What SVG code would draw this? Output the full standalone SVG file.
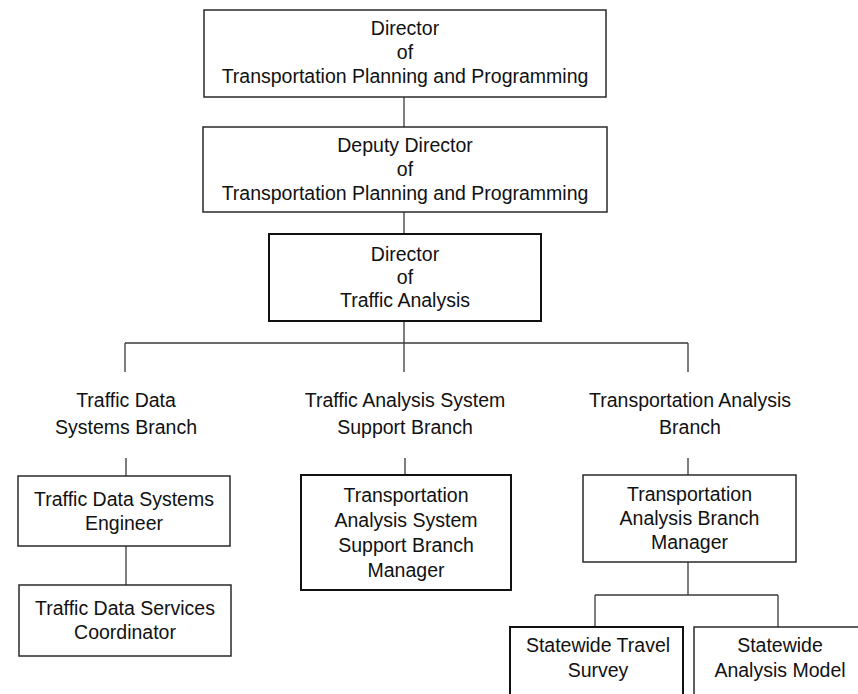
<svg xmlns="http://www.w3.org/2000/svg" width="858" height="694" viewBox="0 0 858 694">
<style>
  .box { fill: #fff; stroke: #2a2a2a; stroke-width: 1.5; }
  .bold { stroke: #111; stroke-width: 2; }
  .conn { fill: none; stroke: #3a3a3a; stroke-width: 1.3; }
  text { font-family: "Liberation Sans", Arial, sans-serif; font-size: 19.5px; fill: #111; text-anchor: middle; }
</style>
<rect width="858" height="694" fill="#fff"/>
<g id="connectors">
  <path class="conn" d="M404 97 V127 M404 212 V234 M404 321 V343 M125 343 H688 M125 343 V372 M404 343 V372 M688 343 V372"/>
  <path class="conn" d="M126 458 V476 M405 458 V475 M688 458 V475"/>
  <path class="conn" d="M126 546 V585"/>
  <path class="conn" d="M688 562 V595 M595 595 H778 M595 595 V627 M778 595 V627"/>
</g>
<g id="director-tpp">
  <rect class="box" x="204" y="10" width="402" height="87"/>
  <text x="405" y="35">Director</text>
  <text x="405" y="59">of</text>
  <text x="405" y="83">Transportation Planning and Programming</text>
</g>
<g id="deputy-director-tpp">
  <rect class="box" x="203" y="127" width="404" height="85"/>
  <text x="405" y="152">Deputy Director</text>
  <text x="405" y="176">of</text>
  <text x="405" y="200">Transportation Planning and Programming</text>
</g>
<g id="director-ta">
  <rect class="box bold" x="269" y="234" width="272" height="87"/>
  <text x="405" y="261">Director</text>
  <text x="405" y="284">of</text>
  <text x="405" y="307">Traffic Analysis</text>
</g>
<g id="tds-branch">
  <text x="126" y="407">Traffic Data</text>
  <text x="126" y="434">Systems Branch</text>
</g>
<g id="tass-branch">
  <text x="405" y="407">Traffic Analysis System</text>
  <text x="405" y="434">Support Branch</text>
</g>
<g id="ta-branch">
  <text x="690" y="407">Transportation Analysis</text>
  <text x="690" y="434">Branch</text>
</g>
<g id="tds-engineer">
  <rect class="box" x="18" y="476" width="212" height="70"/>
  <text x="124" y="506">Traffic Data Systems</text>
  <text x="124" y="530">Engineer</text>
</g>
<g id="tds-coordinator">
  <rect class="box" x="19" y="585" width="212" height="71"/>
  <text x="125" y="615">Traffic Data Services</text>
  <text x="125" y="639">Coordinator</text>
</g>
<g id="tass-manager">
  <rect class="box bold" x="301" y="475" width="210" height="115"/>
  <text x="406" y="502">Transportation</text>
  <text x="406" y="527">Analysis System</text>
  <text x="406" y="552">Support Branch</text>
  <text x="406" y="577">Manager</text>
</g>
<g id="ta-manager">
  <rect class="box" x="583" y="475" width="213" height="87"/>
  <text x="689.5" y="501">Transportation</text>
  <text x="689.5" y="525">Analysis Branch</text>
  <text x="689.5" y="549">Manager</text>
</g>
<g id="statewide-travel-survey">
  <rect class="box bold" x="510" y="627" width="173" height="80"/>
  <text x="598" y="652">Statewide Travel</text>
  <text x="598" y="677">Survey</text>
</g>
<g id="statewide-analysis-model">
  <rect class="box" x="694" y="627" width="170" height="80"/>
  <text x="780" y="652">Statewide</text>
  <text x="780" y="677">Analysis Model</text>
</g>
</svg>
